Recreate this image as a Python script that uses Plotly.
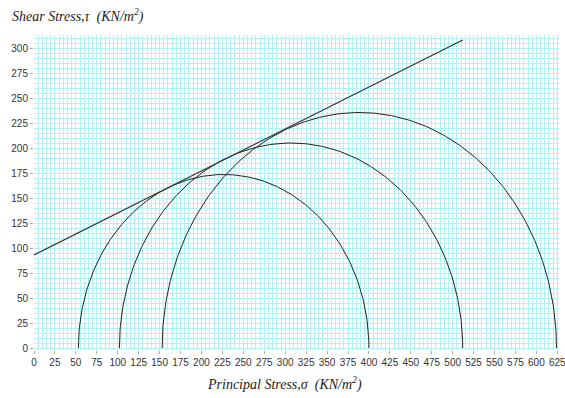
import numpy as np
import plotly.graph_objects as go

# Mohr circle data (kN/m^2)
sigma3 = [53, 102, 153]      # minor principal stresses
sigma1 = [400, 512, 624]     # major principal stresses
# Failure envelope
cohesion = 93
tan_phi = 0.42
envelope_sigma = [0, 512]

x_ticks = list(range(0, 626, 25))
y_ticks = list(range(0, 301, 25))

fig = go.Figure()

for s3, s1 in zip(sigma3, sigma1):
    c = (s1 + s3) / 2
    r = (s1 - s3) / 2
    th = np.linspace(np.pi, 0, 240)
    fig.add_trace(go.Scatter(x=c + r * np.cos(th), y=r * np.sin(th), mode="lines",
                             line=dict(color="#222222", width=1), hoverinfo="skip",
                             showlegend=False))

env_tau = [cohesion + tan_phi * s for s in envelope_sigma]
fig.add_trace(go.Scatter(x=envelope_sigma, y=env_tau, mode="lines",
                         line=dict(color="#333333", width=1.2), showlegend=False))

grid_col = "#b0f2f8"
tick_font = dict(family="Liberation Sans, Arial, sans-serif", size=10, color="#333333")
title_font = dict(family="Liberation Serif, DejaVu Serif, serif", size=14, color="#222222")

fig.update_layout(
    width=565, height=398,
    margin=dict(l=34, r=6, t=35, b=48),
    paper_bgcolor="white", plot_bgcolor="white",
    xaxis=dict(range=[0, 627], tickvals=x_ticks, ticktext=[str(v) for v in x_ticks],
               showgrid=True, gridcolor=grid_col, gridwidth=1,
               minor=dict(dtick=5, showgrid=True, gridcolor=grid_col, gridwidth=1),
               zeroline=False, showline=False, ticks="outside", ticklen=3,
               tickcolor="#aaaaaa", tickfont=tick_font, ticklabeloverflow="allow",
               automargin=False),
    yaxis=dict(range=[-2, 313], tickvals=y_ticks, ticktext=[str(v) for v in y_ticks],
               showgrid=True, gridcolor=grid_col, gridwidth=1,
               minor=dict(dtick=5, showgrid=True, gridcolor=grid_col, gridwidth=1),
               zeroline=False, showline=False, ticks="outside", ticklen=3,
               tickcolor="#aaaaaa", tickfont=tick_font, automargin=False),
    annotations=[
        dict(text="<i>Shear Stress,τ  (KN/m<sup>2</sup>)</i>", xref="paper", yref="paper",
             x=-0.046, y=1.0, yshift=20, xanchor="left", yanchor="middle", showarrow=False,
             font=title_font),
        dict(text="<i>Principal Stress,σ  (KN/m<sup>2</sup>)</i>", xref="paper", yref="paper",
             x=0.478, y=0, yshift=-33, xanchor="center", yanchor="middle", showarrow=False,
             font=title_font),
    ],
)

fig.write_html("out.html", config={"displayModeBar": False},
               post_script="document.body.style.margin='0';document.body.style.overflow='hidden';")
